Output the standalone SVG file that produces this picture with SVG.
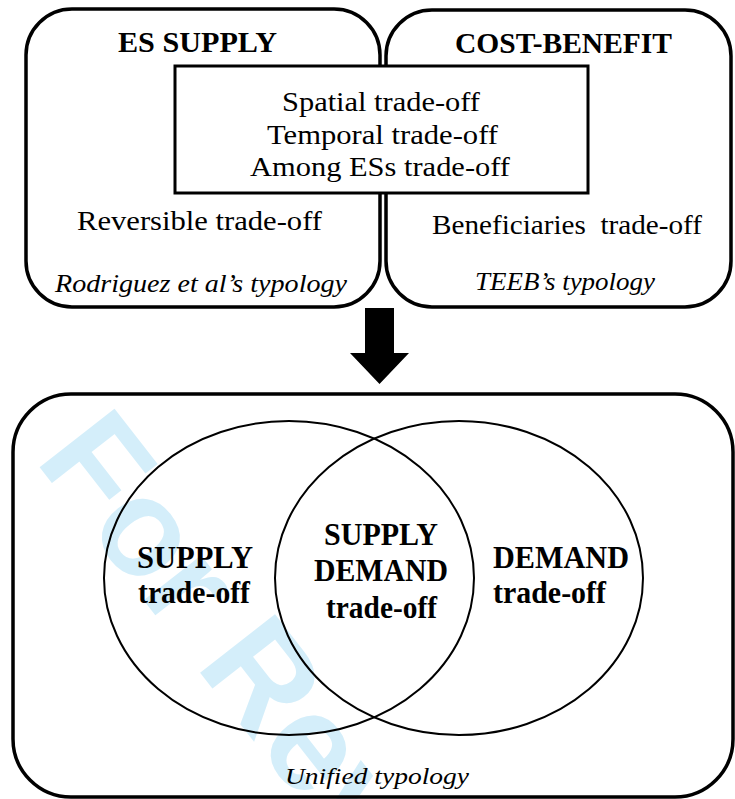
<svg xmlns="http://www.w3.org/2000/svg" width="735" height="799" viewBox="0 0 735 799">
<style>
.box{fill:none;stroke:#000;stroke-width:3.5}
.inner{fill:#fff;stroke:#000;stroke-width:3}
.circ{fill:none;stroke:#000;stroke-width:2}
.t{font-family:"Liberation Serif","Times New Roman",serif;fill:#000}
.b{font-weight:bold}
.i{font-style:italic}
.wm{font-family:"Liberation Sans",Arial,sans-serif;font-weight:bold;fill:#d4eefa}
</style>
<rect width="735" height="799" fill="#fff"/>
<text class="wm" font-size="138" transform="translate(34,460) rotate(52)">For Review Only</text>
<g id="node-es-supply">
<rect class="box" x="26" y="9" width="354" height="298" rx="46"/>
<text class="t b" x="118" y="52" font-size="29" textLength="159" lengthAdjust="spacingAndGlyphs">ES SUPPLY</text>
<text class="t" x="77" y="230" font-size="28" textLength="245" lengthAdjust="spacingAndGlyphs">Reversible trade-off</text>
<text class="t i" x="55" y="292" font-size="25" textLength="292" lengthAdjust="spacingAndGlyphs">Rodriguez et al’s typology</text>
</g>
<g id="node-cost-benefit">
<rect class="box" x="386" y="10" width="345" height="297" rx="46"/>
<text class="t b" x="455" y="53" font-size="29" textLength="217" lengthAdjust="spacingAndGlyphs">COST-BENEFIT</text>
<text class="t" x="432" y="234" font-size="28" textLength="270" lengthAdjust="spacingAndGlyphs" xml:space="preserve">Beneficiaries  trade-off</text>
<text class="t i" x="475" y="290" font-size="25" textLength="180" lengthAdjust="spacingAndGlyphs">TEEB’s typology</text>
</g>
<g id="node-shared">
<rect class="inner" x="175" y="66" width="413" height="127"/>
<text class="t" x="282" y="111" font-size="28" textLength="198" lengthAdjust="spacingAndGlyphs">Spatial trade-off</text>
<text class="t" x="267" y="144" font-size="28" textLength="231" lengthAdjust="spacingAndGlyphs">Temporal trade-off</text>
<text class="t" x="250" y="176" font-size="28" textLength="260" lengthAdjust="spacingAndGlyphs">Among ESs trade-off</text>
</g>
<g id="connectors">
<polygon points="365,308 394,308 394,353 409,353 379.5,384 350,353 365,353" fill="#000"/>
</g>
<g id="node-unified">
<rect class="box" x="13" y="394" width="720" height="403" rx="58"/>
<text class="t i" x="285" y="784" font-size="24" textLength="184" lengthAdjust="spacingAndGlyphs">Unified typology</text>
</g>
<g id="node-supply">
<ellipse class="circ" cx="289" cy="578" rx="185" ry="157"/>
<text class="t b" x="137" y="568" font-size="31" textLength="116" lengthAdjust="spacingAndGlyphs">SUPPLY</text>
<text class="t b" x="138" y="603" font-size="31" textLength="112" lengthAdjust="spacingAndGlyphs">trade-off</text>
</g>
<g id="node-demand">
<ellipse class="circ" cx="459" cy="578" rx="184" ry="157"/>
<text class="t b" x="493" y="568" font-size="31" textLength="136" lengthAdjust="spacingAndGlyphs">DEMAND</text>
<text class="t b" x="493" y="603" font-size="31" textLength="113" lengthAdjust="spacingAndGlyphs">trade-off</text>
</g>
<g id="node-supply-demand">
<text class="t b" x="324" y="545" font-size="31" textLength="114" lengthAdjust="spacingAndGlyphs">SUPPLY</text>
<text class="t b" x="314" y="581" font-size="31" textLength="134" lengthAdjust="spacingAndGlyphs">DEMAND</text>
<text class="t b" x="326" y="618" font-size="31" textLength="111" lengthAdjust="spacingAndGlyphs">trade-off</text>
</g>
</svg>
